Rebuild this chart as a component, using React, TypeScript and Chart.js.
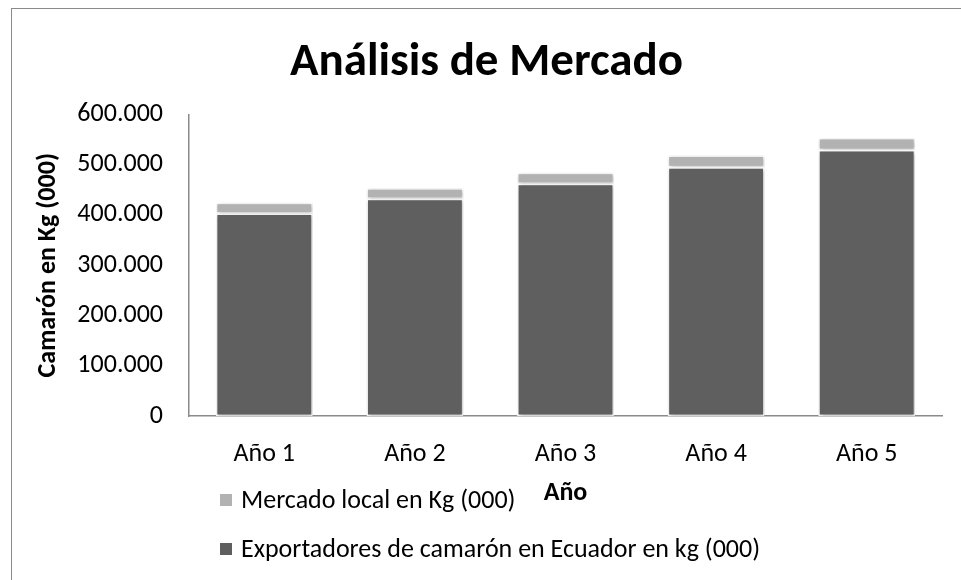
import React, { useEffect, useRef } from 'react';
import { Chart, registerables } from 'chart.js';

Chart.register(...registerables);

const categories = ['Año 1', 'Año 2', 'Año 3', 'Año 4', 'Año 5'];
const exportadores = [403000, 432000, 462000, 495000, 529000];
const mercadoLocal = [21000, 21000, 22000, 23000, 24000];
const seriesNames = ['Exportadores de camarón en Ecuador en kg (000)', 'Mercado local en Kg (000)'];
const seriesColors = ['#5f5f5f', '#b2b2b2'];
const yMin = 0;
const yMax = 600000;
const yStep = 100000;
const chartTitle = 'Análisis de Mercado';
const yTitle = 'Camarón en Kg (000)';
const xTitle = 'Año';

const FONT = 'Carlito, Calibri, Lato, sans-serif';

const fmt = (n: number) => String(Math.round(n)).replace(/\B(?=(\d{3})+(?!\d))/g, '.');

const shadowPlugin = {
  id: 'barShadow',
  beforeDatasetsDraw(chart: any) {
    const c = chart.ctx;
    c.save();
    c.shadowColor = 'rgba(0,0,0,0.28)';
    c.shadowBlur = 4;
    c.shadowOffsetX = 1;
    c.shadowOffsetY = 1;
  },
  afterDatasetsDraw(chart: any) {
    chart.ctx.restore();
  },
};

const legendPlugin = {
  id: 'stackLegend',
  afterDraw(chart: any) {
    const ctx = chart.ctx;
    const ds = chart.data.datasets.slice().reverse();
    const ys = [491, 540];
    ctx.save();
    ctx.font = `26px ${FONT}`;
    ctx.textBaseline = 'middle';
    ctx.textAlign = 'left';
    ds.forEach((d: any, i: number) => {
      const y = ys[i];
      ctx.fillStyle = d.backgroundColor;
      ctx.fillRect(208, y - 6, 12, 12);
      ctx.fillStyle = '#000000';
      ctx.fillText(d.label, 229, y + 1);
    });
    ctx.restore();
  },
};

export default function App() {
  const ref = useRef<HTMLCanvasElement | null>(null);

  useEffect(() => {
    if (!ref.current) return;
    const chart = new Chart(ref.current, {
      type: 'bar',
      data: {
        labels: categories,
        datasets: [
          {
            label: seriesNames[0],
            data: exportadores,
            backgroundColor: seriesColors[0],
            borderColor: '#ffffff',
            borderWidth: 1.5,
            borderSkipped: false,
            categoryPercentage: 1,
            barPercentage: 0.643,
          },
          {
            label: seriesNames[1],
            data: mercadoLocal,
            backgroundColor: seriesColors[1],
            borderColor: '#ffffff',
            borderWidth: 1.5,
            borderSkipped: false,
            categoryPercentage: 1,
            barPercentage: 0.643,
          },
        ],
      },
      options: {
        animation: false,
        responsive: true,
        maintainAspectRatio: false,
        layout: { padding: 0 },
        plugins: {
          legend: { display: false },
          tooltip: { enabled: false },
          title: {
            display: true,
            text: chartTitle,
            color: '#000000',
            font: { family: FONT, size: 47, weight: 'bold' },
            padding: { top: 26, bottom: 23 },
          },
        },
        scales: {
          x: {
            stacked: true,
            grid: { display: false, drawTicks: false },
            border: { display: true, color: '#8a8a8a', width: 1.5 },
            ticks: { color: '#000000', font: { family: FONT, size: 26 }, padding: 23 },
            title: {
              display: true,
              text: xTitle,
              color: '#000000',
              font: { family: FONT, size: 26, weight: 'bold' },
              padding: { top: 0, bottom: 71 },
            },
            afterFit: (s: any) => {
              s.height = 164;
            },
          },
          y: {
            stacked: true,
            min: yMin,
            max: yMax,
            grid: { display: false, drawTicks: false },
            border: { display: true, color: '#8a8a8a', width: 1.5 },
            ticks: {
              stepSize: yStep,
              color: '#000000',
              font: { family: FONT, size: 26 },
              padding: 26,
              callback: (v: any) => fmt(Number(v)),
            },
            title: {
              display: true,
              text: yTitle,
              color: '#000000',
              font: { family: FONT, size: 26, weight: 'bold' },
              padding: { top: 21, bottom: 0 },
            },
            afterFit: (s: any) => {
              s.width = 177;
            },
          },
          spacer: {
            type: 'linear',
            position: 'right',
            display: true,
            min: yMin,
            max: yMax,
            grid: { display: false, drawTicks: false },
            border: { display: false },
            ticks: { display: false },
            afterFit: (s: any) => {
              s.width = 19;
            },
          },
        },
      },
      plugins: [shadowPlugin, legendPlugin],
    });
    return () => chart.destroy();
  }, []);

  return (
    <div
      style={{
        position: 'fixed',
        left: 11,
        top: 8,
        width: 950,
        height: 572,
        boxSizing: 'border-box',
        borderTop: '1px solid #8a8a8a',
        borderLeft: '1px solid #8a8a8a',
        background: '#ffffff',
      }}
    >
      <canvas ref={ref} />
    </div>
  );
}
